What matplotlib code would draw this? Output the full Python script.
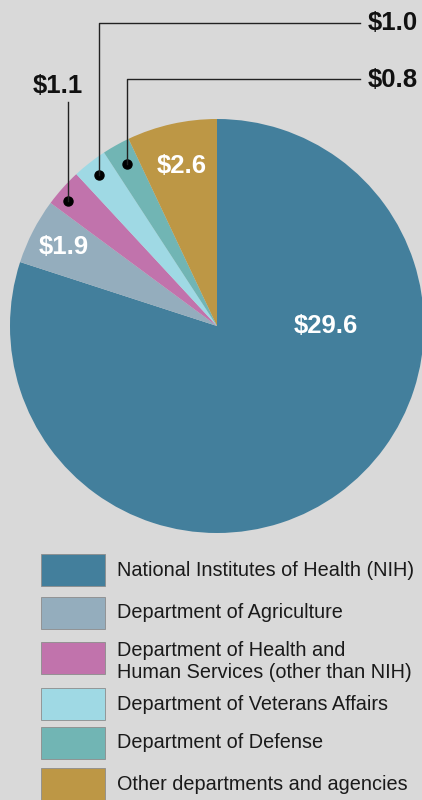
import numpy as np
import matplotlib.pyplot as plt
from matplotlib.patches import Rectangle

plt.rcParams['font.family'] = ['Liberation Sans', 'DejaVu Sans']

# Federal funding by agency (billions of dollars)
agencies = ['National Institutes of Health (NIH)',
            'Department of Agriculture',
            'Department of Health and\nHuman Services (other than NIH)',
            'Department of Veterans Affairs',
            'Department of Defense',
            'Other departments and agencies']
values = [29.6, 1.9, 1.1, 1.0, 0.8, 2.6]
labels = ['$29.6', '$1.9', '$1.1', '$1.0', '$0.8', '$2.6']
colors = ['#437f9c', '#94adbd', '#c173ac', '#9fd9e4', '#71b5b4', '#bd9745']

bg = '#d9d9d9'
fig = plt.figure(figsize=(4.22, 8), dpi=100, facecolor=bg)
ax = fig.add_axes([0, 0, 1, 1])
ax.set_facecolor(bg)

# pixel-like coordinates, y pointing down
cx, cy, rad = 217, 326, 207
wedges, _ = ax.pie(values, colors=colors, startangle=-90, counterclock=True,
                   center=(cx, cy), radius=rad,
                   wedgeprops=dict(linewidth=0))
ax.set_xlim(0, 422)
ax.set_ylim(800, 0)
ax.set_aspect('equal')
ax.axis('off')


def point_on(w, frac, ang=None):
    if ang is None:
        ang = (w.theta1 + w.theta2) / 2
    t = np.deg2rad(ang)
    return cx + frac * rad * np.cos(t), cy + frac * rad * np.sin(t)


# labels inside the big slices
inside = {0: (0.54, 0.0), 1: (0.83, None), 5: (0.79, None)}
for i, (frac, ang) in inside.items():
    x, y = point_on(wedges[i], frac, ang)
    ax.text(x - (3 if i == 0 else 0), y, labels[i], color='white',
            fontsize=18.5, fontweight='bold', ha='center', va='center')

# callouts for the thin slices: (slice, dot radius, line top, label x, label y)
callouts = [(2, 0.94, 102, None, 86),
            (3, 0.925, 23, 360, 23),
            (4, 0.895, 79, 360, 80)]
for i, frac, top, hx, ly in callouts:
    w = wedges[i]
    ang = (w.theta1 + w.theta2) / 2 - (2 if hx is None else 0)
    x, y = point_on(w, frac, ang)
    ax.plot(x, y, 'o', color='black', markersize=6.5)
    if hx is None:
        ax.plot([x, x], [y, top], color='#222222', lw=1)
        ax.text(x - 10, ly, labels[i], fontsize=18.5, fontweight='bold',
                ha='center', va='center', color='#111111')
    else:
        ax.plot([x, x, hx], [y, top, top], color='#222222', lw=1)
        ax.text(hx + 8, ly, labels[i], fontsize=18.5, fontweight='bold',
                ha='left', va='center', color='#111111')

# legend
row_tops = [554, 597, 642, 688, 727, 768]
for top, name, col in zip(row_tops, agencies, colors):
    ax.add_patch(Rectangle((41, top), 64, 32, facecolor=col,
                           edgecolor='#8c8c8c', lw=0.6))
    ax.text(117, top + 16 + (3 if '\n' in name else 0), name, fontsize=14.3,
            ha='left', va='center', color='#1a1a1a', linespacing=1.2)

fig.savefig('out.png', dpi=100, facecolor=bg)
